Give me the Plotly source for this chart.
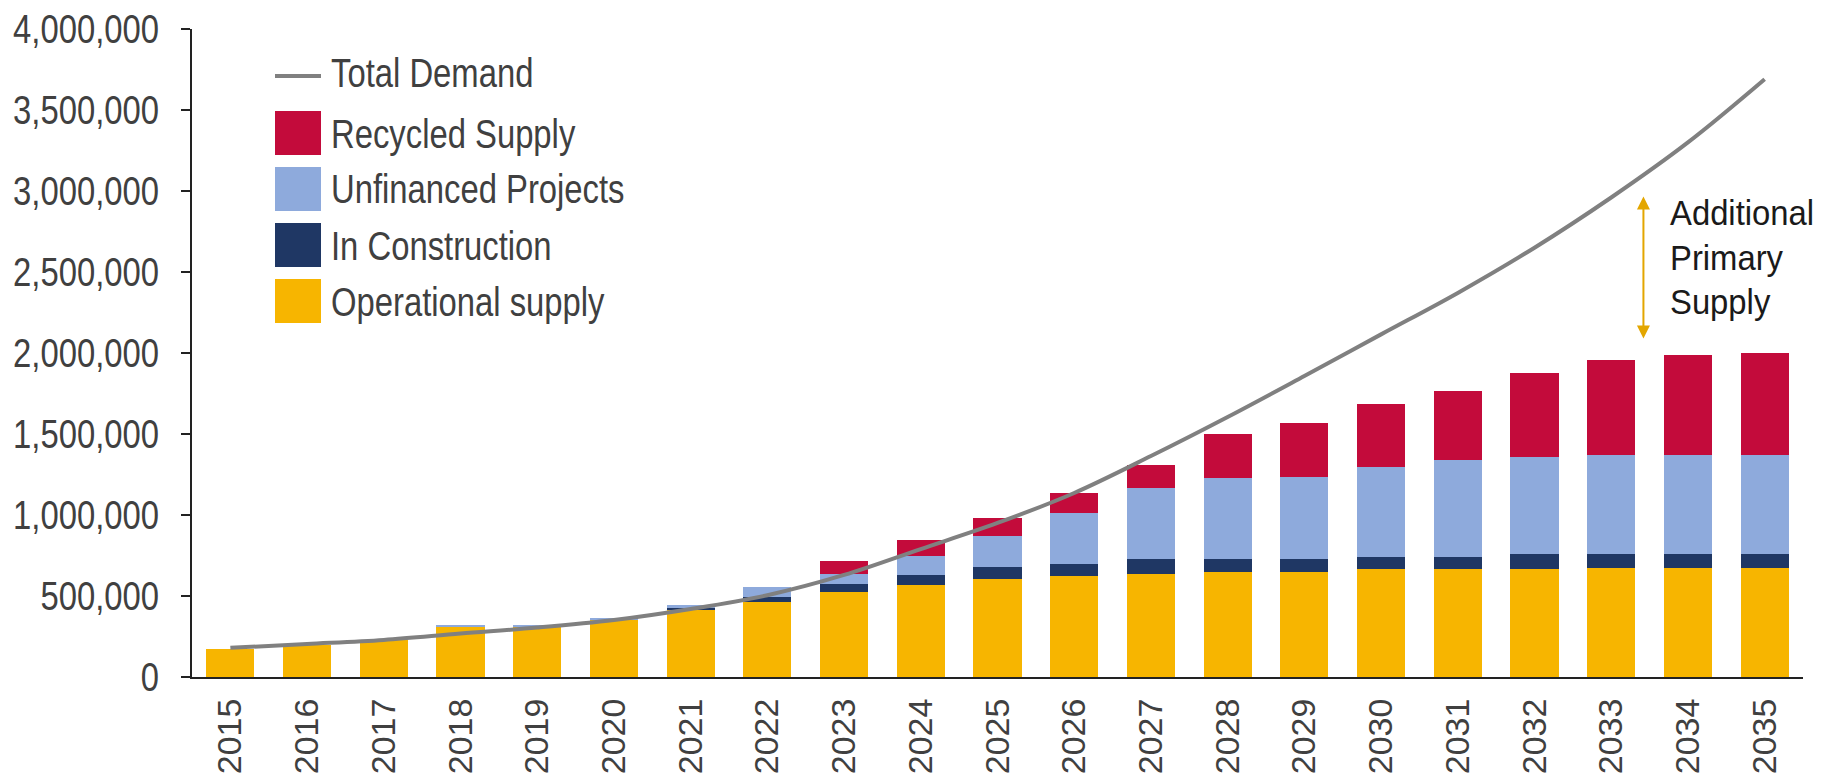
import plotly.graph_objects as go

# ---- data ----
years = [str(y) for y in range(2015, 2036)]

operational = [175000, 196000, 227000, 306000, 314000, 350000, 412000, 464000, 526000, 567000,
               604000, 626000, 637000, 649000, 649000, 664000, 664000, 664000, 674000, 674000, 674000]
in_construction = [0, 0, 0, 0, 0, 0, 17000, 27000, 47000, 62000,
                   72000, 73000, 89000, 77000, 77000, 78000, 78000, 97000, 87000, 87000, 87000]
unfinanced = [0, 0, 0, 14000, 4000, 15000, 14000, 66000, 62000, 117000,
              194000, 315000, 443000, 501000, 511000, 553000, 596000, 599000, 610000, 610000, 612000]
recycled = [0, 0, 0, 0, 0, 0, 0, 0, 81000, 101000,
            109000, 124000, 141000, 274000, 333000, 390000, 430000, 519000, 587000, 617000, 629000]
total_demand = [180000, 204000, 229000, 268000, 305000, 352000, 420000, 505000, 630000, 790000,
                951000, 1136000, 1364000, 1605000, 1858000, 2115000, 2371000, 2650000, 2960000, 3300000, 3690000]

y_ticks = [0, 500000, 1000000, 1500000, 2000000, 2500000, 3000000, 3500000, 4000000]

series_names = ["Total Demand", "Recycled Supply", "Unfinanced Projects", "In Construction", "Operational supply"]
gap_label = ["Additional", "Primary", "Supply"]

COL_DEMAND = "#808080"
COL_RECYCLED = "#C30B3B"
COL_UNFIN = "#8EAADC"
COL_CONSTR = "#1F3764"
COL_OPER = "#F7B500"

FONT = "Liberation Sans, Arial, sans-serif"

W, H = 1824, 780
ML, MR, MT, MB = 192, 21, 29, 103
PW, PH = W - ML - MR, H - MT - MB


def px(x):
    return (x - ML) / PW


def py(y):
    return (H - MB - y) / PH


fig = go.Figure()
for vals, name, col in [(operational, series_names[4], COL_OPER),
                        (in_construction, series_names[3], COL_CONSTR),
                        (unfinanced, series_names[2], COL_UNFIN),
                        (recycled, series_names[1], COL_RECYCLED)]:
    fig.add_trace(go.Bar(x=years, y=vals, name=name, marker=dict(color=col, line=dict(width=0)),
                         showlegend=False))

fig.add_trace(go.Scatter(x=years, y=total_demand, mode="lines", name=series_names[0],
                         line=dict(color=COL_DEMAND, width=4, shape="spline"), showlegend=False))

shapes = []
annotations = []

# legend keys drawn by hand so the swatches can be large
shapes.append(dict(type="line", xref="paper", yref="paper", x0=px(275), x1=px(321), y0=py(76), y1=py(76),
                   line=dict(color=COL_DEMAND, width=4)))
key_rows = [(133, COL_RECYCLED), (189, COL_UNFIN), (245, COL_CONSTR), (301, COL_OPER)]
for cy, col in key_rows:
    shapes.append(dict(type="rect", xref="paper", yref="paper", x0=px(275), x1=px(321),
                       y0=py(cy + 22), y1=py(cy - 22), fillcolor=col, line=dict(width=0)))
label_rows = [73, 134, 189, 246, 302]
for name, cy in zip(series_names, label_rows):
    annotations.append(dict(xref="paper", yref="paper", x=px(329), y=py(cy), text=name, showarrow=False,
                            xanchor="left", yanchor="middle", align="left",
                            font=dict(family=FONT, size=40, color="#404040")))

# gap arrow between demand and supply
annotations.append(dict(x=18.42, y=2966000, ax=18.42, ay=2081000, xref="x", yref="y", axref="x", ayref="y",
                        text="", showarrow=True, arrowside="end+start", arrowhead=2, arrowsize=1.3,
                        arrowwidth=2, arrowcolor="#E3A600", standoff=0, startstandoff=0))
for txt, cy in zip(gap_label, [212, 257, 301]):
    annotations.append(dict(xref="paper", yref="paper", x=px(1668), y=py(cy), text=txt, showarrow=False,
                            xanchor="left", yanchor="middle", align="left",
                            font=dict(family=FONT, size=35, color="#1a1a1a")))

fig.update_layout(
    width=W, height=H, autosize=False,
    margin=dict(l=ML, r=MR, t=MT, b=MB, autoexpand=False),
    paper_bgcolor="white", plot_bgcolor="white",
    barmode="stack", bargap=0.374,
    shapes=shapes, annotations=annotations,
    xaxis=dict(type="category", range=[-0.5, 20.5], showgrid=False, zeroline=False,
               showline=True, linecolor="#222222", linewidth=2, ticks="", tickangle=-90,
               tickfont=dict(family=FONT, size=34, color="#404040"), ticklabelstandoff=6),
    yaxis=dict(range=[0, 4000000], tickvals=y_ticks, tickformat=",", showgrid=False, zeroline=False,
               showline=True, linecolor="#222222", linewidth=2, ticks="outside", ticklen=9,
               tickwidth=2, tickcolor="#222222",
               tickfont=dict(family=FONT, size=40, color="#404040"), ticklabelstandoff=14),
)

# narrow the y tick labels and the annotation texts (condensed look):
# glyph widths are brought to those of a 40px face squeezed to 82%
condense = """
var gd = document.getElementById('{plot_id}');
gd.querySelectorAll('.ytick text, .annotation-text').forEach(function (t) {
  var n = t.getComputedTextLength();
  var fs = parseFloat(t.style.fontSize) || 40;
  if (n > 0) {
    t.setAttribute('textLength', (n * 32.8 / fs).toFixed(1));
    t.setAttribute('lengthAdjust', 'spacingAndGlyphs');
  }
});
"""

fig.write_html("out.html", post_script=condense)
